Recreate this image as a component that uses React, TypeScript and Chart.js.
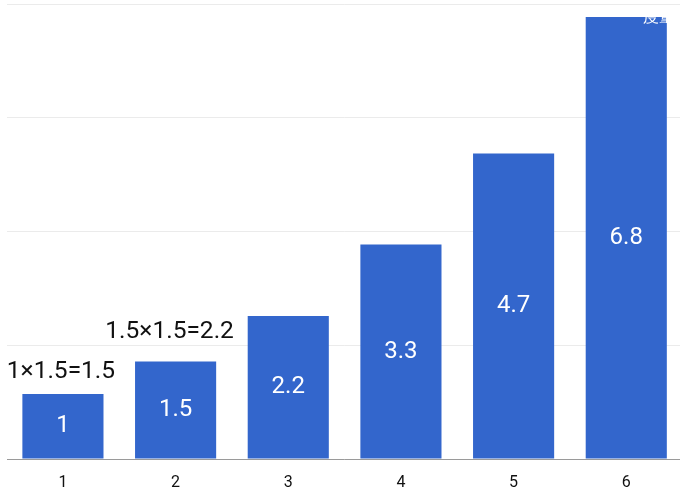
import React, { useEffect, useRef } from "react";
import { Chart, registerables } from "chart.js";

Chart.register(...registerables);

// ---- data ----
const categories = ["1", "2", "3", "4", "5", "6"];
const values = [1, 1.5, 2.2, 3.3, 4.7, 6.8];
const valueLabels = ["1", "1.5", "2.2", "3.3", "4.7", "6.8"];
const noteTexts = ["1×1.5=1.5", "1.5×1.5=2.2"];
const noteCategory = [0, 1];
const noteValue = [1.34, 1.95];
const yMax = 7;
const yStep = 1.75;

const FONT = "Roboto, 'Noto Sans', sans-serif";

const labelPlugin = {
  id: "barLabels",
  afterDatasetsDraw(chart: any) {
    const ctx = chart.ctx;
    const meta = chart.getDatasetMeta(0);
    const yScale = chart.scales.y;
    ctx.save();
    // value labels centred inside bars
    ctx.fillStyle = "#ffffff";
    ctx.font = `24px ${FONT}`;
    ctx.textAlign = "center";
    ctx.textBaseline = "middle";
    meta.data.forEach((bar: any, i: number) => {
      ctx.fillText(valueLabels[i], bar.x, (bar.y + bar.base) / 2);
    });
    // notes above bars
    ctx.fillStyle = "#111111";
    ctx.font = `24.5px ${FONT}`;
    const dx = [-2, -6];
    noteTexts.forEach((t, k) => {
      const bar: any = meta.data[noteCategory[k]];
      ctx.fillText(t, bar.x + dx[k], yScale.getPixelForValue(noteValue[k]));
    });
    // partially hidden white caption at the top right
    const last: any = meta.data[meta.data.length - 1];
    ctx.font = `16px ${FONT}`;
    ctx.fillStyle = "#ffffff";
    ctx.textAlign = "left";
    ctx.textBaseline = "alphabetic";
    ctx.fillText("度量", last.x + 17, yScale.getPixelForValue(values[values.length - 1]) + 5);
    ctx.restore();
  },
};

export default function App() {
  const ref = useRef<HTMLCanvasElement>(null);
  useEffect(() => {
    if (!ref.current) return;
    const chart = new Chart(ref.current, {
      type: "bar",
      data: {
        labels: categories,
        datasets: [
          {
            data: values,
            backgroundColor: "#3366cc",
            borderWidth: 0,
            barPercentage: 0.72,
            categoryPercentage: 1,
          },
        ],
      },
      options: {
        animation: false,
        responsive: false,
        devicePixelRatio: 1,
        layout: { padding: { left: 6.6, right: 3.4, top: 4, bottom: 0 } },
        plugins: { legend: { display: false }, tooltip: { enabled: false } },
        scales: {
          x: {
            grid: { display: false, drawTicks: false },
            border: { display: false },
            ticks: {
              color: "#111111",
              font: { family: FONT, size: 16 },
              padding: 14,
            },
            afterFit(scale: any) {
              scale.height = 43;
            },
          },
          y: {
            min: 0,
            max: yMax,
            ticks: { display: false, stepSize: yStep },
            border: { display: false },
            grid: {
              drawTicks: false,
              color: (c: any) => (c.tick && c.tick.value === 0 ? "#9a9a9a" : "#ebebeb"),
              lineWidth: 1,
            },
            afterFit(scale: any) {
              scale.width = 0;
            },
          },
        },
      },
      plugins: [labelPlugin],
    });
    return () => chart.destroy();
  }, []);
  return (
    <div
      style={{
        position: "fixed",
        left: 0,
        top: 0,
        width: 680,
        height: 502,
        overflow: "hidden",
        background: "#ffffff",
      }}
    >
      <canvas ref={ref} width={686} height={502} style={{ display: "block", width: 686, height: 502 }} />
    </div>
  );
}
